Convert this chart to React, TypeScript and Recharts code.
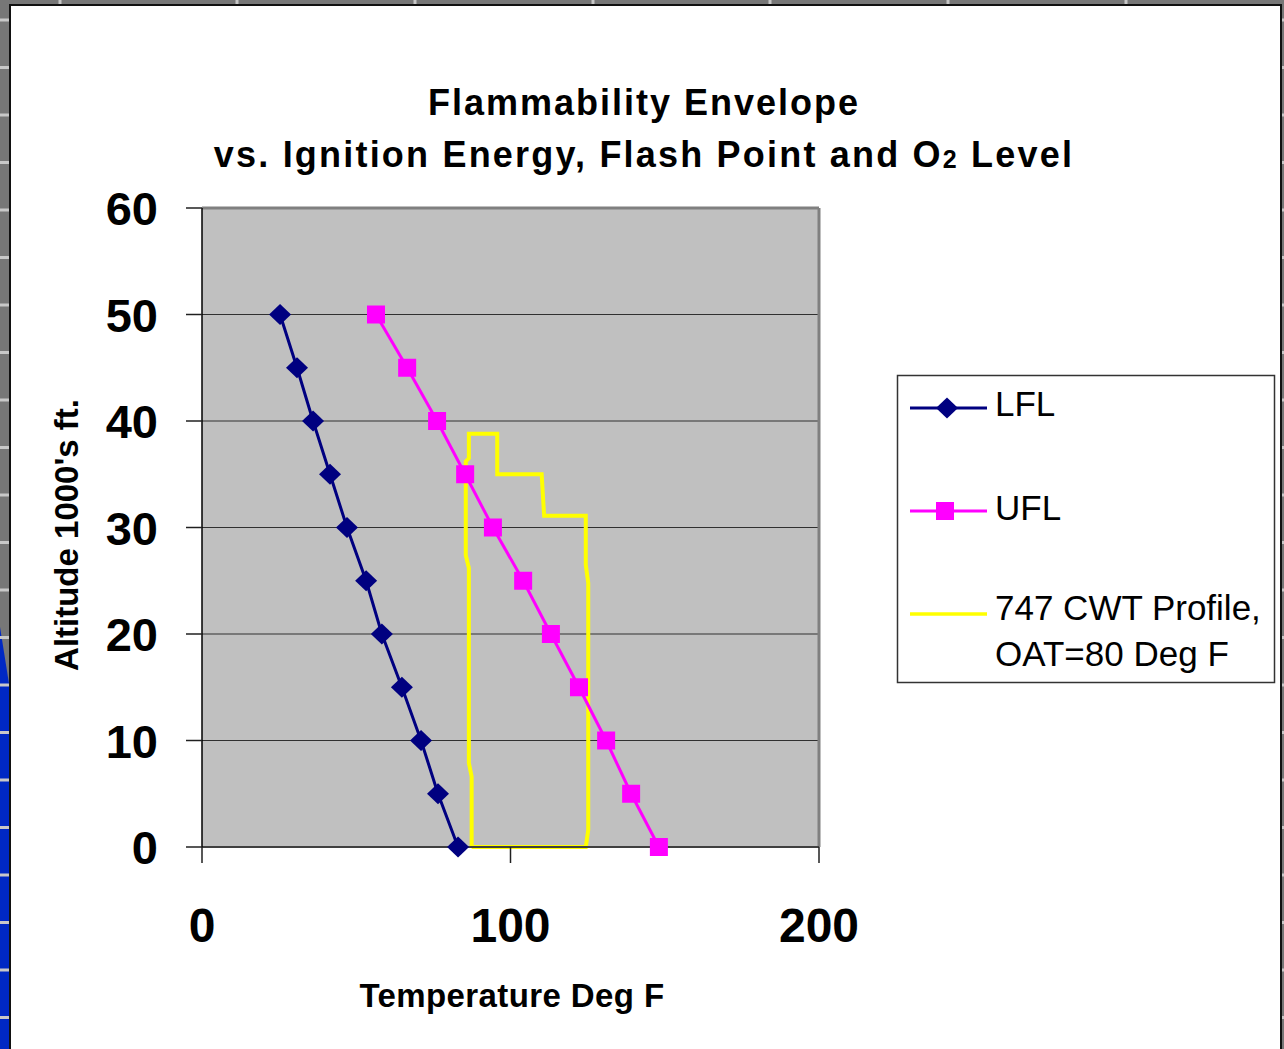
import React from 'react';
import {
  LineChart,
  Line,
  XAxis,
  YAxis,
  CartesianGrid,
  ReferenceLine,
} from 'recharts';

// altitude in 1000's ft for the LFL / UFL curves
const altitudes = [0, 5, 10, 15, 20, 25, 30, 35, 40, 45, 50];
const lflTemps = [83.0, 76.5, 71.0, 64.8, 58.3, 53.2, 47.0, 41.5, 36.0, 30.8, 25.3];
const uflTemps = [148.1, 139.1, 131.0, 122.2, 113.1, 104.1, 94.3, 85.3, 76.2, 66.5, 56.4];

// 747 center wing tank temperature profile (closed outline)
const profileTemps = [
  87.4, 87.4, 86.5, 86.5, 85.5, 85.5, 86.5, 86.5, 95.7, 95.7, 110.1, 110.9,
  124.4, 124.4, 125.2, 125.2, 124.4, 87.4,
];
const profileAlts = [
  0, 6.6, 7.9, 26.2, 27.4, 36.2, 36.5, 38.8, 38.8, 35.0, 35.0, 31.1, 31.1,
  26.5, 24.8, 1.6, 0, 0,
];

const xTicks = [0, 100, 200];
const yTicks = [0, 10, 20, 30, 40, 50, 60];

const lflData = altitudes.map((alt, i) => ({ temp: lflTemps[i], alt }));
const uflData = altitudes.map((alt, i) => ({ temp: uflTemps[i], alt }));
const profileData = profileTemps.map((temp, i) => ({ temp, alt: profileAlts[i] }));

const NAVY = '#000080';
const MAGENTA = '#FF00FF';
const YELLOW = '#FFFF00';
const FONT = 'Arial, "Liberation Sans", Helvetica, sans-serif';

const Diamond = ({ cx, cy }: { cx: number; cy: number }) => (
  <path
    d={`M${cx},${cy - 10.5} L${cx + 11},${cy} L${cx},${cy + 10.5} L${cx - 11},${cy} Z`}
    fill={NAVY}
  />
);

const Square = ({ cx, cy }: { cx: number; cy: number }) => (
  <rect x={cx - 9} y={cy - 9} width={18} height={18} fill={MAGENTA} />
);

const renderDiamond = (p: any) => <Diamond key={`d${p.index}`} cx={p.cx} cy={p.cy} />;
const renderSquare = (p: any) => <Square key={`s${p.index}`} cx={p.cx} cy={p.cy} />;

const YTick = (p: any) => (
  <text
    x={p.x}
    y={p.y}
    dy={17}
    textAnchor="end"
    fontFamily={FONT}
    fontWeight="bold"
    fontSize={47}
    fill="#000"
  >
    {p.payload.value}
  </text>
);

const XTick = (p: any) => (
  <text
    x={p.x}
    y={p.y}
    dy={53}
    textAnchor="middle"
    fontFamily={FONT}
    fontWeight="bold"
    fontSize={48}
    fill="#000"
  >
    {p.payload.value}
  </text>
);

// window frame around the chart sheet
function Frame() {
  const topMarks = [60, 237, 415, 593, 770, 948, 1126];
  const sideMarks = Array.from({ length: 22 }, (_, i) => 20 + i * 47.5);
  return (
    <svg width={1284} height={1049} style={{ position: 'absolute', left: 0, top: 0 }}>
      <rect x={0} y={0} width={1284} height={1049} fill="#777777" />
      <polygon points="0,627 10,690 10,1049 0,1049" fill="#0028C4" />
      {topMarks.map((x) => (
        <rect key={`t${x}`} x={x - 1.5} y={0} width={3} height={5} fill="#C8C8C8" />
      ))}
      {sideMarks.map((y) => (
        <g key={`s${y}`}>
          <rect x={0} y={y - 1.5} width={10} height={3} fill="#C8C8C8" />
          <rect x={1281} y={y - 1.5} width={3} height={3} fill="#C8C8C8" />
        </g>
      ))}
      <rect x={10} y={5} width={1271} height={1050} fill="#FFFFFF" stroke="#111" strokeWidth={2} />
    </svg>
  );
}

function Texts() {
  return (
    <svg
      width={1284}
      height={1049}
      style={{ position: 'absolute', left: 0, top: 0, pointerEvents: 'none' }}
    >
      <g fontFamily={FONT} fontWeight="bold" fill="#000">
        <text x={644} y={115} textAnchor="middle" fontSize={36} letterSpacing={2}>
          Flammability Envelope
        </text>
        <text x={644} y={167} textAnchor="middle" fontSize={36} letterSpacing={2.2}>
          vs. Ignition Energy, Flash Point and O
          <tspan fontSize={25} dy={1}>2</tspan>
          <tspan dy={-1}> Level</tspan>
        </text>
        <text x={512} y={1007} textAnchor="middle" fontSize={33} letterSpacing={0.4}>
          Temperature Deg F
        </text>
        <text
          x={78}
          y={535}
          textAnchor="middle"
          fontSize={33}
          transform="rotate(-90 78 535)"
        >
          Altitude 1000's ft.
        </text>
      </g>
      {/* legend */}
      <rect x={897.5} y={375.5} width={377} height={307} fill="#FFFFFF" stroke="#333" strokeWidth={1.5} />
      <g fontFamily={FONT} fontSize={35} fill="#000">
        <line x1={910} x2={987} y1={408} y2={408} stroke={NAVY} strokeWidth={3} />
        <Diamond cx={947} cy={408} />
        <text x={995} y={416}>LFL</text>
        <line x1={910} x2={987} y1={511} y2={511} stroke={MAGENTA} strokeWidth={3} />
        <Square cx={945} cy={511} />
        <text x={995} y={520}>UFL</text>
        <line x1={910} x2={987} y1={614} y2={614} stroke={YELLOW} strokeWidth={3.5} />
        <text x={995} y={620}>747 CWT Profile,</text>
        <text x={995} y={666}>OAT=80 Deg F</text>
      </g>
    </svg>
  );
}

export default function App() {
  return (
    <div style={{ position: 'absolute', left: 0, top: 0, width: 1284, height: 1049, overflow: 'hidden' }}>
      <Frame />
      <div style={{ position: 'absolute', left: 0, top: 0 }}>
        <LineChart
          width={1284}
          height={1049}
          margin={{ top: 208, right: 465, bottom: 32, left: 32 }}
        >
          <CartesianGrid
            vertical={false}
            stroke="#303030"
            strokeWidth={1}
            fill="#C0C0C0"
            fillOpacity={1}
          />
          <XAxis
            type="number"
            dataKey="temp"
            domain={[0, 200]}
            ticks={xTicks}
            height={170}
            tickSize={16}
            tickMargin={26}
            axisLine={{ stroke: '#404040', strokeWidth: 2 }}
            tickLine={{ stroke: '#202020', strokeWidth: 1.5 }}
            tick={<XTick />}
          />
          <YAxis
            type="number"
            dataKey="alt"
            domain={[0, 60]}
            ticks={yTicks}
            width={170}
            tickSize={16}
            tickMargin={28}
            axisLine={{ stroke: '#000', strokeWidth: 1.5 }}
            tickLine={{ stroke: '#202020', strokeWidth: 1.5 }}
            tick={<YTick />}
          />
          <ReferenceLine y={60} stroke="#808080" strokeWidth={3} />
          <ReferenceLine x={200} stroke="#808080" strokeWidth={3} />
          <Line
            data={profileData}
            dataKey="alt"
            type="linear"
            stroke={YELLOW}
            strokeWidth={4}
            dot={false}
            activeDot={false}
            isAnimationActive={false}
          />
          <Line
            data={lflData}
            dataKey="alt"
            type="linear"
            stroke={NAVY}
            strokeWidth={3}
            dot={renderDiamond}
            activeDot={false}
            isAnimationActive={false}
          />
          <Line
            data={uflData}
            dataKey="alt"
            type="linear"
            stroke={MAGENTA}
            strokeWidth={3}
            dot={renderSquare}
            activeDot={false}
            isAnimationActive={false}
          />
        </LineChart>
      </div>
      <Texts />
    </div>
  );
}
